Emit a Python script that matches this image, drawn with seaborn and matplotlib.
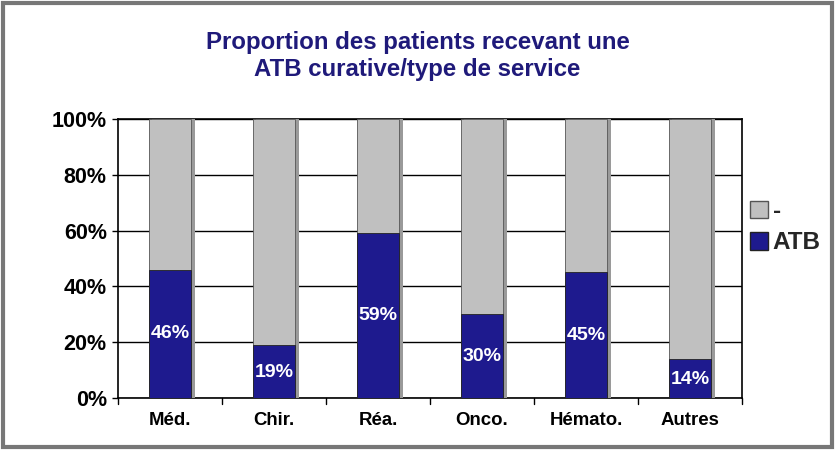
import matplotlib
matplotlib.use("Agg")
import matplotlib.pyplot as plt
import matplotlib.patheffects as pe
from matplotlib.patches import Rectangle, Patch
import seaborn as sns
import pandas as pd

categories = ["Méd.", "Chir.", "Réa.", "Onco.", "Hémato.", "Autres"]
atb = [46, 19, 59, 30, 45, 14]
other = [54, 81, 41, 70, 55, 86]
yticks = [0, 20, 40, 60, 80, 100]
title = "Proportion des patients recevant une\nATB curative/type de service"

sns.set_theme(style="white")
plt.rcParams["font.family"] = ["Liberation Sans", "DejaVu Sans"]

df = pd.DataFrame({"cat": categories, "atb": atb,
                   "total": [a + o for a, o in zip(atb, other)]})

fig = plt.figure(figsize=(8.35, 4.5), dpi=100)
ax = fig.add_axes([0.1413, 0.1156, 0.7473, 0.62])

blue = "#1E1A8E"
grey = "#C0C0C0"
shadow = [pe.SimplePatchShadow(offset=(2.5, 0), shadow_rgbFace="#9a9a9a", alpha=1), pe.Normal()]

sns.barplot(data=df, x="cat", y="total", color=grey, saturation=1, width=0.41,
            edgecolor="#555555", linewidth=0.6, ax=ax, zorder=3)
sns.barplot(data=df, x="cat", y="atb", color=blue, saturation=1, width=0.41,
            edgecolor="#222222", linewidth=0.6, ax=ax, zorder=4)
for i, p in enumerate(ax.patches):
    if i < len(categories):
        p.set_path_effects(shadow)

for i, v in enumerate(atb):
    ax.text(i, v / 2 if v > 20 else v / 2 - 0.5, f"{v}%", ha="center", va="center",
            color="white", fontsize=14, fontweight="bold", zorder=5)

ax.set_ylim(0, 100)
ax.set_xlim(-0.5, len(categories) - 0.5)
ax.set_yticks(yticks)
ax.set_yticklabels([f"{t}%" for t in yticks], fontsize=15.5, fontweight="bold", color="black")
ax.set_xticks(range(len(categories)))
ax.set_xticklabels(categories, fontsize=13.4, fontweight="bold", color="black")
ax.tick_params(axis="x", length=0, pad=10)
ax.tick_params(axis="y", length=4, width=1, color="black", direction="out", left=True, pad=4)
for b in [i + 0.5 for i in range(-1, len(categories))]:
    ax.plot([b, b], [0, -2.2], color="black", lw=1, clip_on=False, zorder=6)
ax.set_xlabel("")
ax.set_ylabel("")
ax.yaxis.grid(True, color="black", linewidth=1)
ax.set_axisbelow(True)
for s in ax.spines.values():
    s.set_visible(True)
    s.set_color("black")
    s.set_linewidth(1.2)

handles = [Patch(facecolor=grey, edgecolor="#555555", label="-"),
           Patch(facecolor=blue, edgecolor="#222222", label="ATB")]
leg = ax.legend(handles=handles, loc="center left", bbox_to_anchor=(0.998, 0.612),
                frameon=False, prop={"weight": "bold", "size": 17.5},
                handlelength=0.72, handleheight=0.72, handletextpad=0.2, labelspacing=0.35,
                borderaxespad=0)

fig.text(0.5, 0.875, title, ha="center", va="center", fontsize=17.3, fontweight="bold",
         color="#1F1A7A", linespacing=1.2)

fig.patches.append(Rectangle((0.004, 0.006), 0.992, 0.988, transform=fig.transFigure,
                             fill=False, edgecolor="#777777", linewidth=3))

fig.savefig("out.png", dpi=100)
